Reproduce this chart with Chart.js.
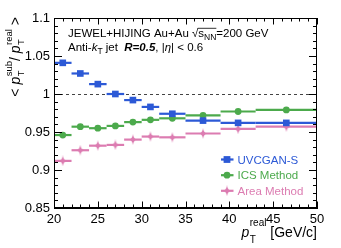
<!DOCTYPE html>
<html><head><meta charset="utf-8">
<script src="https://cdn.jsdelivr.net/npm/chart.js@4.4.0/dist/chart.umd.min.js"></script>
<style>html,body{margin:0;padding:0;background:#fff;overflow:hidden;}</style>
</head><body>
<canvas id="c" width="341" height="248" style="width:341px;height:248px;display:block"></canvas>
<script>
// ---- data ----
const binLow    = [20, 22, 24, 26, 28, 30, 32, 35, 39, 43];
const binHigh   = [22, 24, 26, 28, 30, 32, 35, 39, 43, 50];
const binCenter = [21, 23, 25, 27, 29, 31, 33.5, 37, 41, 46.5];
const uvcgan = [1.041, 1.027, 1.013, 1.000, 0.992, 0.983, 0.974, 0.965, 0.962, 0.962];
const ics    = [0.946, 0.957, 0.955, 0.958, 0.963, 0.966, 0.968, 0.972, 0.977, 0.979];
const area   = [0.912, 0.926, 0.932, 0.933, 0.940, 0.944, 0.943, 0.948, 0.954, 0.957];
const seriesNames = ['UVCGAN-S', 'ICS Method', 'Area Method'];
const xTicks = [20, 25, 30, 35, 40, 45, 50];
const xTickLabels = ['20', '25', '30', '35', '40', '45', '50'];
const yTicks = [0.85, 0.9, 0.95, 1, 1.05, 1.1];
const yTickLabels = ['0.85', '0.9', '0.95', '1', '1.05', '1.1'];
const refLine = 1;

// ---- style ----
const BLUE = '#2c59d6', GREEN = '#4caa4c', PINK = '#dc7cb1';
const FF = '"Liberation Sans", Arial, Helvetica, sans-serif';

function diamondCanvas(color) {
  const c = document.createElement('canvas');
  c.width = 8; c.height = 11;
  const g = c.getContext('2d');
  g.fillStyle = color;
  g.beginPath();
  g.moveTo(4, 0);
  g.quadraticCurveTo(4.6, 4.9, 8, 5.5);
  g.quadraticCurveTo(4.6, 6.1, 4, 11);
  g.quadraticCurveTo(3.4, 6.1, 0, 5.5);
  g.quadraticCurveTo(3.4, 4.9, 4, 0);
  g.closePath();
  g.fill();
  return c;
}
const pinkDiamond = diamondCanvas(PINK);

function pts(vals) { return binCenter.map((x, i) => ({x: x, y: vals[i]})); }

function richWidth(ctx, segs) {
  let w = 0;
  for (const s of segs) {
    ctx.font = s.font;
    if (s.stack) w += Math.max(ctx.measureText(s.sup).width, ctx.measureText(s.sub).width);
    else w += ctx.measureText(s.t).width;
    w += s.gap || 0;
  }
  return w;
}
function drawRich(ctx, segs, x, y) {
  let cx = x;
  const marks = {};
  for (const s of segs) {
    ctx.font = s.font;
    ctx.fillStyle = s.color || '#000';
    let w;
    if (s.stack) {
      ctx.fillText(s.sup, cx, y + s.supDy);
      ctx.fillText(s.sub, cx, y + s.subDy);
      w = Math.max(ctx.measureText(s.sup).width, ctx.measureText(s.sub).width);
    } else {
      ctx.fillText(s.t, cx, y + (s.dy || 0));
      w = ctx.measureText(s.t).width;
    }
    if (s.mark) marks[s.mark] = [cx, cx + w];
    cx += w + (s.gap || 0);
  }
  return marks;
}

const decor = {
  id: 'decor',
  beforeDatasetsDraw(chart) {
    const {ctx, chartArea: a, scales: {x, y}} = chart;
    ctx.save();
    // reference dashed line
    ctx.strokeStyle = '#444'; ctx.lineWidth = 1; ctx.setLineDash([3, 3]);
    const yr = Math.round(y.getPixelForValue(refLine)) + 0.5;
    ctx.beginPath(); ctx.moveTo(a.left, yr); ctx.lineTo(a.right, yr); ctx.stroke();
    ctx.setLineDash([]);
    // horizontal bin-width bars
    chart.data.datasets.forEach(ds => {
      ctx.strokeStyle = ds.borderColor; ctx.lineWidth = 2.2;
      ds.data.forEach((p, i) => {
        const py = y.getPixelForValue(p.y);
        ctx.beginPath();
        ctx.moveTo(x.getPixelForValue(binLow[i]), py);
        ctx.lineTo(x.getPixelForValue(binHigh[i]), py);
        ctx.stroke();
      });
    });
    ctx.restore();
  },
  afterDraw(chart) {
    const {ctx, chartArea: a, scales: {x, y}} = chart;
    ctx.save();
    // frame
    ctx.strokeStyle = '#000'; ctx.lineWidth = 1;
    ctx.strokeRect(a.left + 0.5, a.top + 0.5, a.right - a.left - 1, a.bottom - a.top - 1);
    // inward ticks
    ctx.beginPath();
    for (let v = 0.85; v <= 1.1001; v += 0.01) {
      const major = yTicks.some(t => Math.abs(t - v) < 1e-6);
      const L = major ? 8 : 4;
      const py = Math.round(y.getPixelForValue(v)) + 0.5;
      ctx.moveTo(a.left, py); ctx.lineTo(a.left + L, py);
      ctx.moveTo(a.right, py); ctx.lineTo(a.right - L, py);
    }
    for (let v = 20; v <= 50; v += 1) {
      const major = xTicks.includes(v);
      const L = major ? 6.5 : 3.5;
      const px = Math.round(x.getPixelForValue(v)) + 0.5;
      ctx.moveTo(px, a.bottom); ctx.lineTo(px, a.bottom - L);
      ctx.moveTo(px, a.top); ctx.lineTo(px, a.top + L);
    }
    ctx.stroke();

    ctx.textBaseline = 'alphabetic';
    ctx.textAlign = 'left';
    // header text line 1
    const f1 = '11.5px ' + FF, f1s = '8.5px ' + FF;
    const line1 = [
      {t: 'JEWEL+HIJING Au+Au ', font: f1},
      {t: '\u221A', font: f1, mark: 'rad'},
      {t: 's', font: f1, mark: 's'},
      {t: 'NN', font: f1s, dy: 3, mark: 'nn'},
      {t: '=200 GeV', font: f1}
    ];
    const m1 = drawRich(ctx, line1, 68, 37);
    ctx.lineWidth = 0.8;
    ctx.beginPath();
    ctx.moveTo(m1.rad[1] - 0.5, 28.3); ctx.lineTo(m1.nn[1], 28.3);
    ctx.stroke();
    // header line 2
    const line2 = [
      {t: 'Anti-', font: f1},
      {t: 'k', font: 'italic 11.5px ' + FF},
      {t: 'T', font: f1s, dy: 3},
      {t: ' jet  ', font: f1},
      {t: 'R=0.5', font: 'italic bold 11.5px ' + FF},
      {t: ', |', font: f1},
      {t: '\u03B7', font: 'italic 11.5px ' + FF},
      {t: '| < 0.6', font: f1}
    ];
    drawRich(ctx, line2, 68, 51);

    // x-axis title (right aligned)
    const fx = '14px ' + FF, fxi = 'italic 14px ' + FF, fxs = '10px ' + FF;
    const xt = [
      {t: 'p', font: fxi, gap: 0.5},
      {stack: true, sup: 'real', sub: 'T', font: fxs, supDy: -11, subDy: 6},
      {t: ' [GeV/c]', font: fx}
    ];
    const wx = richWidth(ctx, xt);
    drawRich(ctx, xt, a.right - wx, 237);

    // y-axis title (rotated, right aligned at top)
    const fys = '9.5px ' + FF;
    const yt = [
      {t: '< ', font: fx},
      {t: 'p', font: fxi, gap: 0.5},
      {stack: true, sup: 'sub', sub: 'T', font: fys, supDy: -8.5, subDy: 4},
      {t: '/ ', font: fx},
      {t: 'p', font: fxi, gap: 0.5},
      {stack: true, sup: 'real', sub: 'T', font: fys, supDy: -8.5, subDy: 4},
      {t: ' >', font: fx}
    ];
    const wy = richWidth(ctx, yt);
    ctx.save();
    ctx.translate(20, 17 + wy);
    ctx.rotate(-Math.PI / 2);
    drawRich(ctx, yt, 0, 0);
    ctx.restore();

    // legend
    const legY = [159.5, 175.2, 190.8];
    const fl = '11.5px ' + FF;
    chart.data.datasets.forEach((ds, i) => {
      const cy = legY[i], cx = 227;
      ctx.strokeStyle = ds.borderColor; ctx.fillStyle = ds.borderColor; ctx.lineWidth = 2.2;
      ctx.beginPath(); ctx.moveTo(221, cy); ctx.lineTo(233.5, cy); ctx.stroke();
      if (ds.pointStyle === 'rect') {
        ctx.fillRect(cx - 3.4, cy - 3.4, 6.8, 6.8);
      } else if (ds.pointStyle === 'circle') {
        ctx.beginPath(); ctx.arc(cx, cy, 3.4, 0, Math.PI * 2); ctx.fill();
      } else {
        ctx.drawImage(pinkDiamond, cx - 4, cy - 5.5);
      }
      ctx.font = fl;
      ctx.fillText(seriesNames[i], 237.5, cy + 4.2);
    });
    ctx.restore();
  }
};

new Chart(document.getElementById('c'), {
  type: 'scatter',
  data: {
    datasets: [
      {label: seriesNames[0], data: pts(uvcgan), pointStyle: 'rect', pointRadius: 4.7,
       backgroundColor: BLUE, borderColor: BLUE, borderWidth: 0},
      {label: seriesNames[1], data: pts(ics), pointStyle: 'circle', pointRadius: 3.4,
       backgroundColor: GREEN, borderColor: GREEN, borderWidth: 0},
      {label: seriesNames[2], data: pts(area), pointStyle: pinkDiamond, pointRadius: 5,
       backgroundColor: PINK, borderColor: PINK, borderWidth: 0}
    ]
  },
  options: {
    responsive: false, animation: false, devicePixelRatio: 1,
    layout: {padding: {top: 18, right: 24, left: 0, bottom: 0}},
    plugins: {legend: {display: false}, tooltip: {enabled: false}, title: {display: false}},
    elements: {point: {hoverRadius: 5}},
    events: [],
    scales: {
      x: {
        type: 'linear', min: 20, max: 50,
        grid: {display: false, drawTicks: false},
        border: {display: true, color: '#000', width: 1},
        afterBuildTicks: s => { s.ticks = xTicks.map(v => ({value: v})); },
        afterFit: s => { s.height = 40; },
        ticks: {
          padding: 4, maxRotation: 0, autoSkip: false, color: '#000',
          font: {family: FF, size: 13},
          callback: v => { const i = xTicks.indexOf(v); return i >= 0 ? xTickLabels[i] : ''; }
        }
      },
      y: {
        type: 'linear', min: 0.85, max: 1.1,
        grid: {display: false, drawTicks: false},
        border: {display: true, color: '#000', width: 1},
        afterBuildTicks: s => { s.ticks = yTicks.map(v => ({value: v})); },
        afterFit: s => { s.width = 54; },
        ticks: {
          padding: 4, autoSkip: false, color: '#000',
          font: {family: FF, size: 13},
          callback: v => { const i = yTicks.findIndex(t => Math.abs(t - v) < 1e-6); return i >= 0 ? yTickLabels[i] : ''; }
        }
      }
    }
  },
  plugins: [decor]
});
</script>
</body></html>
